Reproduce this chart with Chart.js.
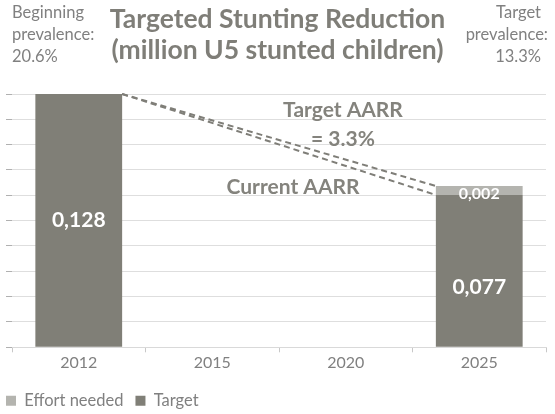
<!DOCTYPE html>
<html>
<head>
<meta charset="utf-8">
<script src="https://cdn.jsdelivr.net/npm/chart.js@4.4.1/dist/chart.umd.min.js"></script>
<style>
  html, body { margin: 0; padding: 0; background: #ffffff; }
  #wrap { position: relative; width: 555px; height: 414px; overflow: hidden; }
  canvas { position: absolute; left: 0; top: 0; }
  .note { position: absolute; font-family: Lato, "Open Sans", sans-serif; font-size: 16.5px; line-height: 22px; color: #808080; white-space: nowrap; }
  #title { position: absolute; left: 0; width: 555px; top: 3px; text-align: center; font-family: Lato, "Open Sans", sans-serif; font-weight: bold; font-size: 26.5px; line-height: 31px; color: #7f7e78; white-space: nowrap; }
</style>
</head>
<body>
<div id="wrap">
  <canvas id="c" width="555" height="414"></canvas>
  <div id="title">Targeted Stunting Reduction<br>(million U5 stunted children)</div>
  <div class="note" style="left:12px; top:1px; text-align:left;">Beginning<br>prevalence:<br>20.6%</div>
  <div class="note" style="right:7px; top:1px; text-align:right;"><span style="padding-right:7px">Target</span><br>prevalence:<br><span style="padding-right:7px">13.3%</span></div>
</div>
<script>
const categories = ['2012', '2015', '2020', '2025'];
const targetValues = [0.128, null, null, 0.077];
const effortValues = [null, null, null, 0.0045];
const targetLabels = ['0,128', null, null, '0,077'];
const effortLabels = [null, null, null, '0,002'];
const annotations = ['Target AARR', '= 3.3%', 'Current AARR'];
const yMin = 0, yMax = 0.128, yTickCount = 11;

const TARGET_COLOR = '#807f77';
const EFFORT_COLOR = '#b4b4af';
const TEXT_GRAY = '#808080';
const LABEL_FONT = 'Lato, "Open Sans", sans-serif';

const overlayPlugin = {
  id: 'overlay',
  afterDatasetsDraw(chart) {
    const ctx = chart.ctx;
    const tMeta = chart.getDatasetMeta(0);
    const eMeta = chart.getDatasetMeta(1);
    const first = tMeta.data[0];
    const last = tMeta.data[3];
    const lastEffort = eMeta.data[3];
    // dashed AARR lines
    ctx.save();
    ctx.strokeStyle = '#7f7e78';
    ctx.lineWidth = 2;
    ctx.setLineDash([6, 4]);
    const x0 = first.x + first.width / 2;
    const x1 = last.x - last.width / 2;
    ctx.beginPath();
    ctx.moveTo(x0, first.y);
    ctx.lineTo(x1, lastEffort.y);
    ctx.stroke();
    ctx.beginPath();
    ctx.moveTo(x0, first.y);
    ctx.lineTo(x1, last.y);
    ctx.stroke();
    ctx.restore();

    // data labels
    ctx.save();
    ctx.fillStyle = '#ffffff';
    ctx.textAlign = 'center';
    ctx.textBaseline = 'middle';
    ctx.font = 'bold 21px ' + LABEL_FONT;
    tMeta.data.forEach((el, i) => {
      if (targetLabels[i] == null || targetValues[i] == null) return;
      const offset = i === 3 ? 16 : 0;
      ctx.fillText(targetLabels[i], el.x, (el.y + el.base) / 2 + offset);
    });
    ctx.font = 'bold 16px ' + LABEL_FONT;
    eMeta.data.forEach((el, i) => {
      if (effortLabels[i] == null || effortValues[i] == null) return;
      ctx.fillText(effortLabels[i], el.x, (el.y + el.base) / 2 + 3);
    });
    ctx.restore();

    // AARR annotations
    ctx.save();
    ctx.fillStyle = '#84837d';
    ctx.textAlign = 'center';
    ctx.textBaseline = 'middle';
    ctx.font = 'bold 21px ' + LABEL_FONT;
    ctx.fillText(annotations[0], 343, 110);
    ctx.fillText(annotations[1], 343, 139);
    ctx.fillText(annotations[2], 293, 187);
    ctx.restore();
  },
  afterLayout(chart) {
    const lg = chart.legend;
    if (lg) { lg.left -= 12; lg.right -= 12; lg.top += 7; lg.bottom += 7; }
  }
};

new Chart(document.getElementById('c'), {
  type: 'bar',
  data: {
    labels: categories,
    datasets: [
      { label: 'Target', data: targetValues, backgroundColor: TARGET_COLOR, borderWidth: 0 },
      { label: 'Effort needed', data: effortValues, backgroundColor: EFFORT_COLOR, borderWidth: 0 }
    ]
  },
  options: {
    responsive: false,
    animation: false,
    events: [],
    datasets: { bar: { categoryPercentage: 0.65, barPercentage: 1.0 } },
    layout: { padding: { left: 6, right: 9, top: 94, bottom: 2 } },
    scales: {
      x: {
        stacked: true,
        grid: { drawOnChartArea: false, drawTicks: true, tickLength: 5, color: '#c8c8c8', offset: true },
        border: { display: true, color: '#d9d9d9', width: 1 },
        ticks: { color: TEXT_GRAY, font: { family: LABEL_FONT, size: 16 }, padding: 1, maxRotation: 0 }
      },
      y: {
        stacked: true,
        min: yMin, max: yMax,
        grid: { color: '#dedede', lineWidth: 1, drawTicks: true, tickLength: 6, tickColor: '#b0b0b0' },
        border: { display: false },
        ticks: { display: false, count: yTickCount }
      }
    },
    plugins: {
      title: { display: false },
      tooltip: { enabled: false },
      legend: {
        display: true,
        position: 'bottom',
        align: 'start',
        reverse: true,
        labels: { boxWidth: 10, boxHeight: 10, padding: 12, color: TEXT_GRAY, font: { family: LABEL_FONT, size: 16.5 } }
      }
    }
  },
  plugins: [overlayPlugin]
});
</script>
</body>
</html>
